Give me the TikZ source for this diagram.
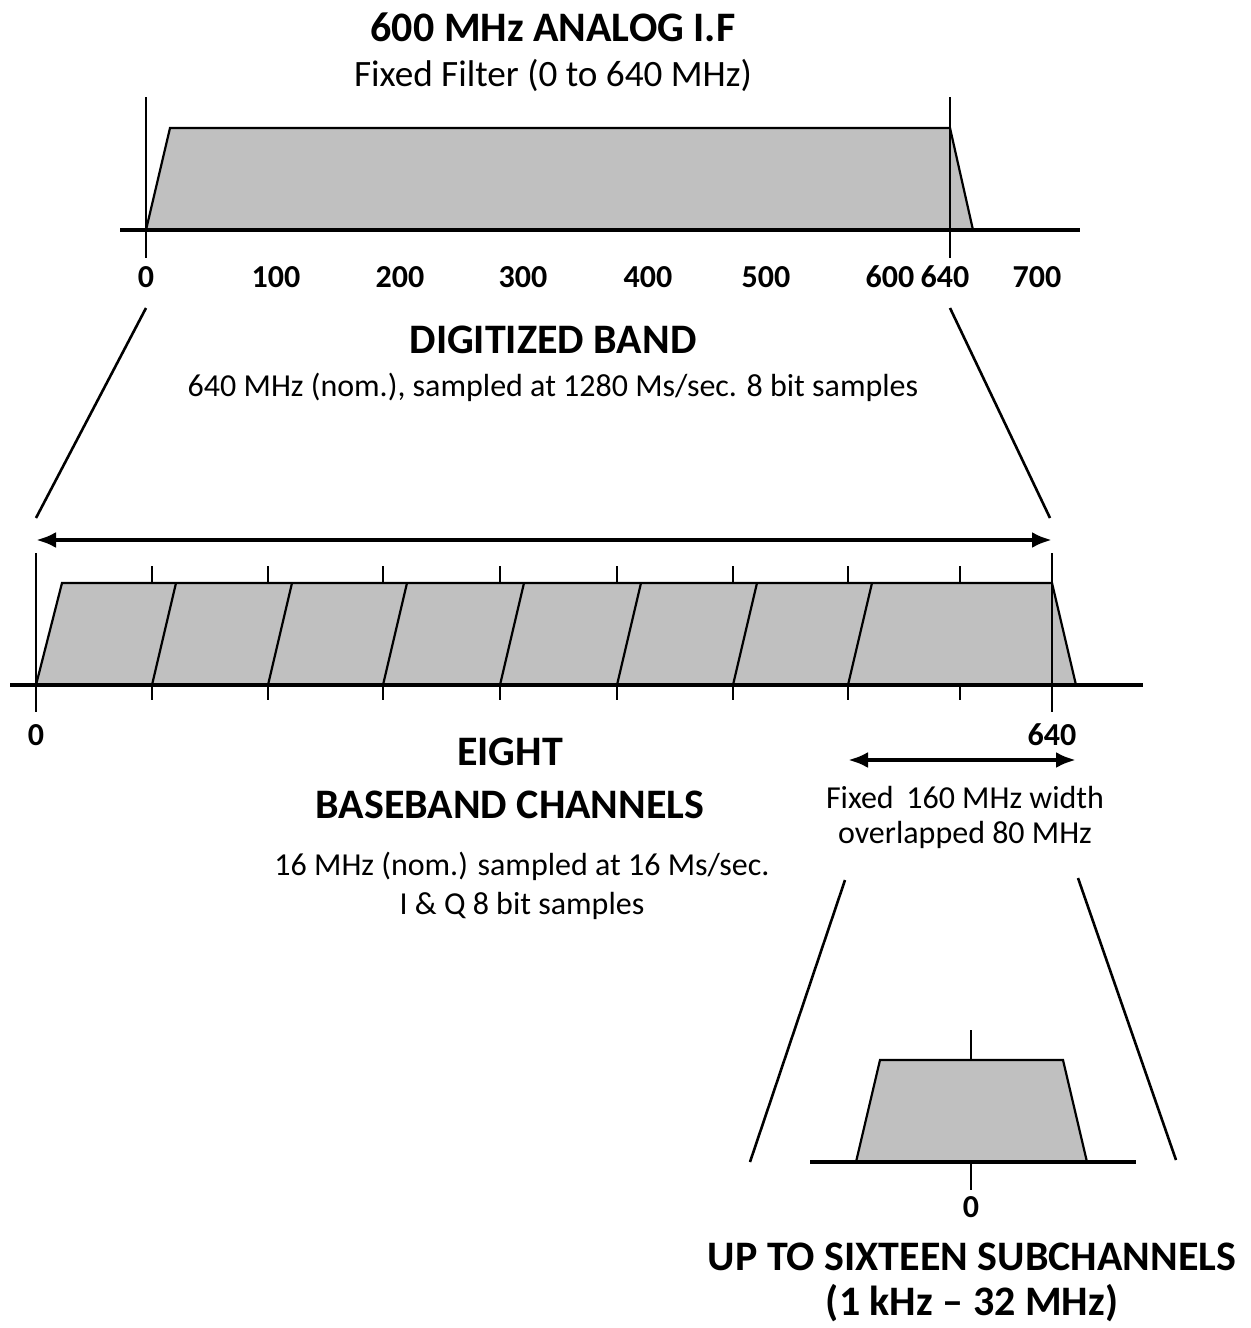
\documentclass[tikz,border=0pt]{standalone}
\usepackage{fontspec}
\setmainfont{Carlito}
\usepackage{tikz}
\usetikzlibrary{arrows.meta,positioning,calc}
\definecolor{bandGray}{HTML}{C0C0C0}
\tikzset{
  bigtitle/.style={font=\bfseries\fontsize{21}{25}\selectfont},
  subtext/.style={font=\fontsize{16}{19}\selectfont},
  ticklab/.style={font=\bfseries\fontsize{16}{19}\selectfont},
  band/.style={fill=bandGray,draw=black,line width=1.1pt},
  axisline/.style={line width=1.6pt},
  marker/.style={line width=1.1pt},
  funnel/.style={line width=1.3pt},
  span/.style={line width=2pt,{Latex[length=10pt,width=8pt]}-{Latex[length=10pt,width=8pt]}}
}

\begin{document}
\begin{tikzpicture}[x=0.5pt,y=-0.5pt]
  \useasboundingbox (0,0) rectangle (1251,1328);

  % top block: analog IF
  \node[bigtitle] (ifTitle) at (553,27) {600 MHz ANALOG I.F};
  \node[subtext,font=\fontsize{18.6}{22}\selectfont] (ifSub) at (553,75) {Fixed Filter (0 to 640 MHz)};
  \filldraw[band] (146,230) -- (170,128) -- (950,128) -- (973,230) -- cycle;
  \foreach \x in {146,950}{
    \draw[marker] (\x,97) -- (\x,258);
  }
  \draw[axisline] (120,230) -- (1080,230);
  \foreach \x/\lab in {146/0,276/100,400/200,523/300,648/400,766/500,890/600,945/640,1037/700}{
    \node[ticklab] at (\x,277) {\lab};
  }

  % zoom from IF to digitized band
  \coordinate (ifL) at (146,308);
  \coordinate (ifR) at (950,308);
  \coordinate (dbL) at (36,518);
  \coordinate (dbR) at (1050,518);
  \draw[funnel] (ifL) -- (dbL);
  \draw[funnel] (ifR) -- (dbR);
  \node[bigtitle] (dbTitle) at (553,340) {DIGITIZED BAND};
  \node[subtext] (dbSub) at (553,387) {640 MHz (nom.), sampled at 1280 Ms/sec. 8 bit samples};

  % middle block: eight baseband channels
  \coordinate (fullL) at (36,540);
  \coordinate (fullR) at (1052,540);
  \draw[span] (fullL) -- (fullR);
  \filldraw[band] (36,685) -- (62,583) -- (1052,583) -- (1076,685) -- cycle;
  \foreach \x in {152,268,383,500,617,733,848}{
    \draw[marker] (\x,685) -- (\x+24,583);
  }
  \foreach \x in {152,268,383,500,617,733,848,960}{
    \draw[marker] (\x,566) -- (\x,583);
    \draw[marker] (\x,685) -- (\x,700);
  }
  \foreach \x in {36,1052}{
    \draw[marker] (\x,553) -- (\x,712);
  }
  \draw[axisline] (10,685) -- (1143,685);
  \node[ticklab] at (36,735) {0};
  \node[ticklab] at (1052,735) {640};

  \node[bigtitle] (bbEight) at (510,752) {EIGHT};
  \node[bigtitle] (bbTitle) at (510,805) {BASEBAND CHANNELS};
  \node[subtext] (bbSub) at (522,866) {16 MHz (nom.) sampled at 16 Ms/sec.};
  \node[subtext] (bbSubB) at (522,906) {I \& Q 8 bit samples};

  \coordinate (chL) at (848,760);
  \coordinate (chR) at (1076,760);
  \draw[span] (chL) -- (chR);
  \node[subtext] (chSub) at (965,797) {Fixed\, 160 MHz width};
  \node[subtext] (chSubB) at (965,835) {overlapped 80 MHz};

  % zoom from channel to subchannels
  \coordinate (chZL) at (845,880);
  \coordinate (chZR) at (1078,878);
  \coordinate (scL) at (750,1162);
  \coordinate (scR) at (1176,1160);
  \draw[funnel] (chZL) -- (scL);
  \draw[funnel] (chZR) -- (scR);

  % bottom block: subchannels
  \filldraw[band] (856,1162) -- (880,1060) -- (1063,1060) -- (1087,1162) -- cycle;
  \draw[marker] (971,1030) -- (971,1060);
  \draw[marker] (971,1162) -- (971,1190);
  \draw[axisline] (810,1162) -- (1136,1162);
  \node[ticklab] at (971,1207) {0};
  \node[bigtitle] (scTitle) at (972,1257) {UP TO SIXTEEN SUBCHANNELS};
  \node[bigtitle] (scSub) at (972,1303) {(1 kHz – 32 MHz)};
\end{tikzpicture}
\end{document}
